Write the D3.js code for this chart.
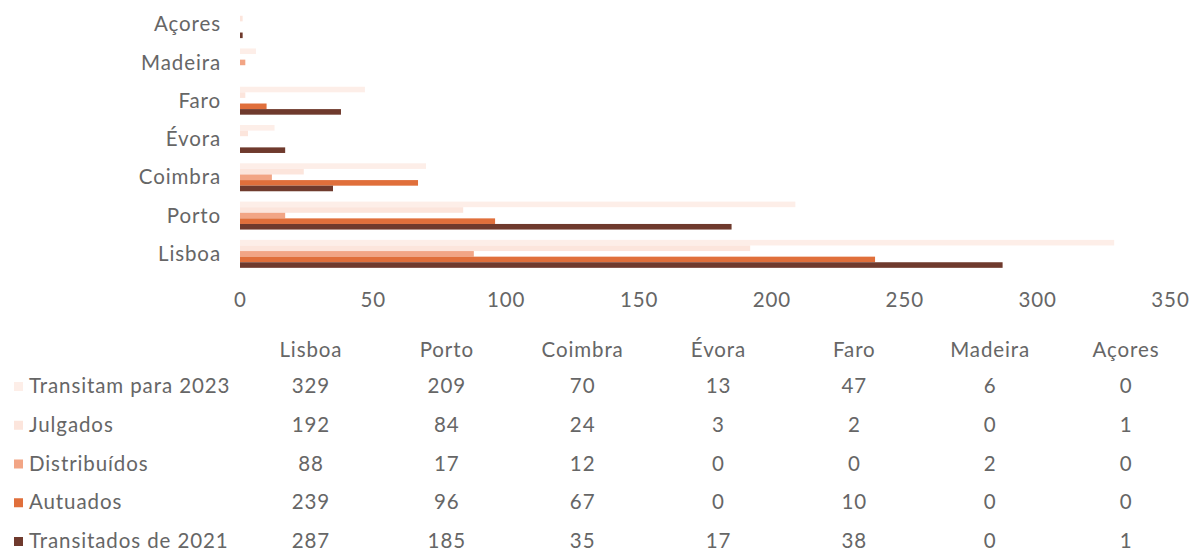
<!DOCTYPE html>
<html>
<head>
<meta charset="utf-8">
<script src="https://cdn.jsdelivr.net/npm/d3@7"></script>
<style>
  html, body { margin: 0; padding: 0; background: #fff; }
  svg { display: block; }
  text { font-family: Lato, "Open Sans", sans-serif; font-weight: 400; fill: #666666; letter-spacing: 0.9px; }
</style>
</head>
<body>
<svg id="chart" width="1195" height="554"></svg>
<script>
// Tribunais, processos por situação
const categories = ["Lisboa", "Porto", "Coimbra", "Évora", "Faro", "Madeira", "Açores"];
const seriesNames = ["Transitam para 2023", "Julgados", "Distribuídos", "Autuados", "Transitados de 2021"];
const transitam2023 = [329, 209, 70, 13, 47, 6, 0];
const julgados      = [192, 84, 24, 3, 2, 0, 1];
const distribuidos  = [88, 17, 12, 0, 0, 2, 0];
const autuados      = [239, 96, 67, 0, 10, 0, 0];
const transitados2021 = [287, 185, 35, 17, 38, 0, 1];
const xTicks = [0, 50, 100, 150, 200, 250, 300, 350];

const seriesValues = [transitam2023, julgados, distribuidos, autuados, transitados2021];
const colors = ["#fdeee8", "#fce5dc", "#f2a585", "#e06f3b", "#6f3a2d"];
const fontSize = "20.5px";

const svg = d3.select("#chart");

// Bars: categories stacked top-down from Açores to Lisboa
const x = d3.scaleLinear().domain([0, 350]).range([240, 1170]);
const y = d3.scaleBand().domain(categories.slice().reverse()).range([5, 273]).paddingInner(0.27).paddingOuter(0.135);
const ySub = d3.scaleBand().domain(seriesNames).range([0, y.bandwidth()]).padding(0);

const groups = svg.append("g").selectAll("g")
  .data(categories)
  .join("g")
  .attr("transform", c => `translate(0,${y(c)})`);

groups.selectAll("rect")
  .data(c => seriesNames.map((s, si) => ({ s, si, v: seriesValues[si][categories.indexOf(c)] })))
  .join("rect")
  .attr("x", x(0))
  .attr("y", d => ySub(d.s))
  .attr("height", ySub.bandwidth())
  .attr("width", d => x(d.v) - x(0))
  .attr("fill", d => colors[d.si]);

// Category axis labels
const yAxis = d3.axisLeft(y).tickSize(0).tickPadding(0);
const gy = svg.append("g").attr("transform", "translate(221,0)").call(yAxis);
gy.select(".domain").remove();
gy.selectAll("text").style("font-size", fontSize).attr("fill", "#666666").attr("dy", "0.35em");

// Value axis
const xAxis = d3.axisBottom(x).tickValues(xTicks).tickSize(0).tickPadding(0);
const gx = svg.append("g").attr("transform", "translate(0,300)").call(xAxis);
gx.select(".domain").remove();
gx.selectAll("text").style("font-size", fontSize).attr("fill", "#666666").attr("y", 0).attr("dy", "0.35em");

// Data table underneath
const col = d3.scaleBand().domain(categories).range([243, 1194]);
svg.append("g").selectAll("text")
  .data(categories)
  .join("text")
  .attr("x", c => col(c) + col.bandwidth() / 2)
  .attr("y", 350)
  .attr("dy", "0.35em")
  .attr("text-anchor", "middle")
  .style("font-size", fontSize)
  .text(c => c);

const rowY = d3.scalePoint().domain(seriesNames).range([386, 541]);

const rows = svg.append("g").selectAll("g")
  .data(seriesNames)
  .join("g")
  .attr("transform", s => `translate(0,${rowY(s)})`);

rows.append("rect")
  .attr("x", 14)
  .attr("y", -4)
  .attr("width", 9)
  .attr("height", 9)
  .attr("fill", (s, i) => colors[i]);

rows.append("text")
  .attr("x", 29)
  .attr("dy", "0.35em")
  .style("font-size", fontSize)
  .text(s => s);

rows.selectAll("text.val")
  .data((s, i) => categories.map((c, ci) => ({ c, v: seriesValues[i][ci] })))
  .join("text")
  .attr("class", "val")
  .attr("x", d => col(d.c) + col.bandwidth() / 2)
  .attr("dy", "0.35em")
  .attr("text-anchor", "middle")
  .style("font-size", fontSize)
  .text(d => d.v);
</script>
</body>
</html>
